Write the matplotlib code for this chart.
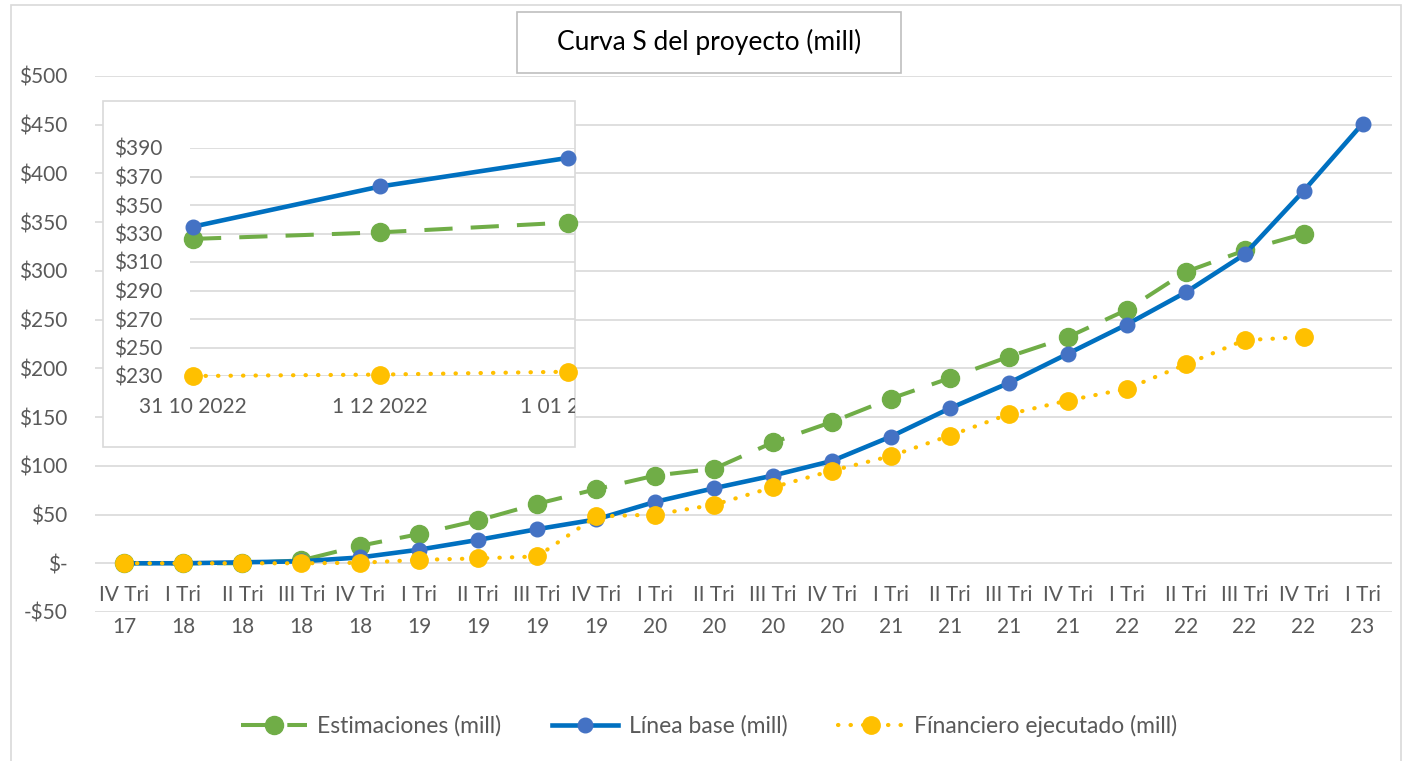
import numpy as np
import matplotlib.pyplot as plt
from matplotlib.patches import Rectangle
from matplotlib.ticker import FuncFormatter

plt.rcParams['font.family'] = ['Lato', 'DejaVu Sans']

# datos (millones)
trimestres = ['IV Tri', 'I Tri', 'II Tri', 'III Tri', 'IV Tri', 'I Tri', 'II Tri', 'III Tri',
              'IV Tri', 'I Tri', 'II Tri', 'III Tri', 'IV Tri', 'I Tri', 'II Tri', 'III Tri',
              'IV Tri', 'I Tri', 'II Tri', 'III Tri', 'IV Tri', 'I Tri']
anios = ['17', '18', '18', '18', '18', '19', '19', '19', '19', '20', '20', '20', '20',
         '21', '21', '21', '21', '22', '22', '22', '22', '23']
estimaciones = [0, 0, 0, 3, 18, 30, 44, 61, 76, 90, 97, 124, 145, 169, 190, 212, 232,
                260, 299, 321, 338, np.nan]
linea_base = [0, 0, 1, 2, 6, 14, 24, 35, 45, 63, 77, 90, 105, 130, 159, 185, 215,
              245, 278, 317, 382, 451]
financiero = [0, 0, 0, 0, 0.5, 3.5, 5, 7, 48, 50, 60, 78, 95, 110, 131, 153, 167,
              179, 204, 229, 232, np.nan]

# detalle (inset)
fechas_inset = ['31 10 2022', '1 12 2022', '1 01 2023']
est_inset = [326.2, 330.8, 337.7]
base_inset = [334.8, 363, 383]
fin_inset = [230, 231, 233]

VERDE = '#70AD47'
AZUL = '#0070C0'
AZUL_MK = '#4472C4'
AMARILLO = '#FFC000'
GRIS = '#595959'
GRID = '#D9D9D9'
FS = 15

W, H = 1411, 761
fig = plt.figure(figsize=(W / 100, H / 100), dpi=100)

# borde exterior
fig.patches.append(Rectangle((11 / W, -0.05), (1401 - 11) / W, 1 - 5 / H + 0.05,
                             transform=fig.transFigure, fill=False, edgecolor=GRID,
                             linewidth=1.2, zorder=0))

ax = fig.add_axes([95 / W, 1 - 612 / H, (1392 - 95) / W, (612 - 76) / H])
x = np.arange(len(trimestres))


def dibujar(a, xs, est, base, fin):
    a.plot(xs, est, color=VERDE, linewidth=2.9, linestyle=(0, (7, 4.5)),
           marker='o', markersize=13, markerfacecolor=VERDE, markeredgecolor=VERDE,
           label='Estimaciones (mill)', zorder=3, clip_on=False)
    a.plot(xs, base, color=AZUL, linewidth=3.3, marker='o', markersize=10.5,
           markerfacecolor=AZUL_MK, markeredgecolor=AZUL_MK,
           label='Línea base (mill)', zorder=4, clip_on=False)
    a.plot(xs, fin, color=AMARILLO, linewidth=3.0, linestyle=(0, (0.1, 2.9)),
           dash_capstyle='round', marker='o', markersize=12.5,
           markerfacecolor=AMARILLO, markeredgecolor=AMARILLO,
           label='Fínanciero ejecutado (mill)', zorder=5, clip_on=False)


dibujar(ax, x, estimaciones, linea_base, financiero)

ax.set_xlim(-0.5, 21.5)
ax.set_ylim(-50, 500)
ax.set_yticks(np.arange(-50, 501, 50))


def fmt_dolar(v, pos):
    if v == 0:
        return '$-'
    if v < 0:
        return '-$%d' % -v
    return '$%d' % v


ax.yaxis.set_major_formatter(FuncFormatter(fmt_dolar))
ax.set_xticks(x, labels=[f'{t}\n{a}' for t, a in zip(trimestres, anios)],
              linespacing=1.75)
ax.tick_params(axis='x', length=0, pad=-19.5, labelsize=FS, labelcolor=GRIS)
ax.tick_params(axis='y', length=0, pad=20, labelsize=FS, labelcolor=GRIS)
ax.grid(axis='y', color=GRID, linewidth=1.2)
ax.set_axisbelow(True)
for s in ax.spines.values():
    s.set_visible(False)

# leyenda
fig.legend(*ax.get_legend_handles_labels(), loc='center', bbox_to_anchor=(0.5025, 0.046),
           ncol=3, frameon=False, fontsize=16.5, handlelength=2.9, handletextpad=0.45,
           columnspacing=2.2, labelcolor=GRIS)

# titulo con recuadro
fig.patches.append(Rectangle((517 / W, 1 - 73 / H), (901 - 517) / W, (73 - 12) / H,
                             transform=fig.transFigure, facecolor='white',
                             edgecolor='#BFBFBF', linewidth=1.2, zorder=1))
fig.text(709 / W, 1 - 42 / H, 'Curva S del proyecto (mill)', ha='center', va='center',
         fontsize=19, color='black', zorder=2)

# recuadro del inset
caja = Rectangle((103 / W, 1 - 447 / H), (575 - 103) / W, (447 - 101) / H,
                 transform=fig.transFigure, facecolor='white', edgecolor=GRID,
                 linewidth=1.2, zorder=1)
fig.patches.append(caja)

axi = fig.add_axes([190 / W, 1 - 376 / H, (575 - 190) / W, (376 - 148) / H], zorder=2)
axi.set_facecolor('none')
xi = np.arange(len(fechas_inset))
dibujar(axi, xi, est_inset, base_inset, fin_inset)
axi.set_xlim(-0.016, 2.04)
axi.set_ylim(230, 390)
axi.set_yticks(np.arange(230, 391, 20))
axi.yaxis.set_major_formatter(FuncFormatter(fmt_dolar))
axi.set_xticks(xi, labels=fechas_inset)
axi.tick_params(axis='x', length=0, pad=15, labelsize=FS, labelcolor=GRIS)
axi.tick_params(axis='y', length=0, pad=20, labelsize=FS, labelcolor=GRIS)
axi.grid(axis='y', color=GRID, linewidth=1.2)
axi.set_axisbelow(True)
for s in axi.spines.values():
    s.set_visible(False)
for lbl in axi.get_xticklabels():
    lbl.set_clip_on(True)
    lbl.set_clip_path(caja)

fig.savefig('out.png', dpi=100)
